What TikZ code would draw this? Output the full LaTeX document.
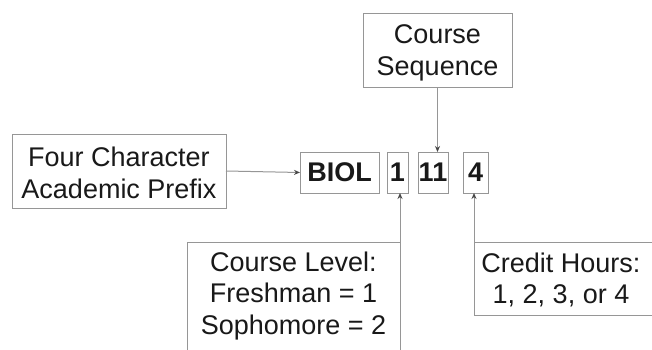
\documentclass[tikz,border=0pt]{standalone}
\usepackage{fontspec}
\setmainfont{Liberation Sans}
\usetikzlibrary{arrows.meta}
\definecolor{edge}{RGB}{150,150,150}
\definecolor{ink}{RGB}{25,25,25}
\begin{document}
\begin{tikzpicture}[x=1pt,y=-1pt,
  box/.style={draw=edge,line width=1pt,inner sep=0pt,outer sep=0pt},
  lbl/.style={font=\fontsize{27}{31.5}\selectfont,text=ink,align=center,inner sep=0pt},
  code/.style={box,minimum height=41pt,font=\fontsize{27}{31}\bfseries\selectfont,text=ink},
  conn/.style={draw=edge,line width=1pt,-{Stealth[length=6pt,width=5pt,color=ink!80]}}]
\useasboundingbox (0,0) rectangle (652,350);
\clip (0,0) rectangle (652,350);
\fill[white] (0,0) rectangle (652,350);
% top box
\node[box,minimum width=149pt,minimum height=74pt] (seq) at (437.5,51) {};
\node[lbl] (seqt) at (437.5,53) {Course\\Sequence};
% left box
\node[box,minimum width=214pt,minimum height=74pt] (pre) at (119,171) {};
\node[lbl] (pret) at (119,173) {Four Character\\Academic Prefix};
% code boxes
\node[code,minimum width=79pt] (biol) at (339.5,172.5) {BIOL};
\node[code,minimum width=21pt] (one) at (397.5,172.5) {1};
\node[code,minimum width=30pt] (eleven) at (433,172.5) {11};
\node[code,minimum width=25pt] (four) at (475.5,172.5) {4};
% bottom boxes
\node[box,anchor=north west,minimum width=213pt,minimum height=140pt] (lvl) at (187,242) {};
\node[lbl] (lvlt) at (293.5,296) {Course Level:\\Freshman = 1\\Sophomore = 2};
\node[box,anchor=north west,minimum width=190pt,minimum height=73pt] (cred) at (474,242) {};
\node[lbl] (credt) at (561,280) {Credit Hours:\\1, 2, 3, or 4};
% connectors
\draw[conn] (seq.south) -- (seq.south |- eleven.north);
\draw[conn] (pre.east) -- (biol.west);
\draw[conn] (lvl.south east) -- (lvl.south east |- one.south);
\draw[conn] (cred.south west) -- (cred.south west |- four.south);
\end{tikzpicture}
\end{document}
